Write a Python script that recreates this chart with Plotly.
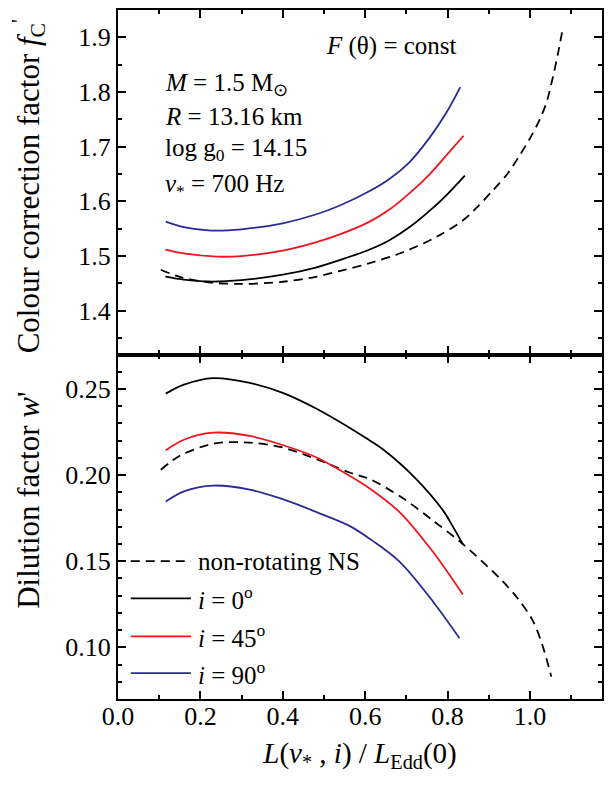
import plotly.graph_objects as go
from plotly.subplots import make_subplots

# ── Data ────────────────────────────────────────────────────────────────────

# top panel: colour correction factor f_C'
fc_nonrot_x = [0.104, 0.15, 0.22, 0.30, 0.40, 0.48, 0.54, 0.611, 0.692, 0.773, 0.837,
               0.87, 0.91, 0.947, 0.975, 1.0, 1.024, 1.04, 1.056, 1.068, 1.078]
fc_nonrot_y = [1.475, 1.462, 1.452, 1.449, 1.453, 1.462, 1.473, 1.487, 1.507, 1.535, 1.565,
               1.588, 1.620, 1.652, 1.684, 1.715, 1.750, 1.780, 1.828, 1.870, 1.909]

fc_i0_x = [0.115, 0.16, 0.22, 0.30, 0.40, 0.48, 0.54, 0.611, 0.659, 0.708, 0.757, 0.797, 0.842]
fc_i0_y = [1.4625, 1.457, 1.4535, 1.456, 1.466, 1.479, 1.493, 1.512, 1.529, 1.553, 1.583, 1.611, 1.647]

fc_i45_x = [0.115, 0.16, 0.24, 0.30, 0.40, 0.48, 0.54, 0.611, 0.659, 0.708, 0.757, 0.797, 0.839]
fc_i45_y = [1.512, 1.505, 1.499, 1.500, 1.510, 1.525, 1.540, 1.563, 1.585, 1.615, 1.650, 1.684, 1.720]

fc_i90_x = [0.116, 0.16, 0.22, 0.30, 0.40, 0.48, 0.54, 0.611, 0.659, 0.708, 0.757, 0.797, 0.831]
fc_i90_y = [1.563, 1.553, 1.547, 1.549, 1.560, 1.576, 1.593, 1.619, 1.641, 1.672, 1.717, 1.762, 1.809]

# bottom panel: dilution factor w'
w_nonrot_x = [0.104, 0.15, 0.235, 0.32, 0.40, 0.482, 0.562, 0.611, 0.692, 0.765, 0.837,
              0.927, 0.97, 1.007, 1.03, 1.052]
w_nonrot_y = [0.2031, 0.2112, 0.2184, 0.2188, 0.216, 0.2092, 0.2015, 0.1977, 0.1865, 0.1735,
              0.160, 0.140, 0.1285, 0.1155, 0.1015, 0.083]

w_i0_x = [0.116, 0.16, 0.231, 0.32, 0.40, 0.482, 0.562, 0.60, 0.643, 0.724, 0.789, 0.812, 0.837]
w_i0_y = [0.2473, 0.2525, 0.2563, 0.2535, 0.2477, 0.2385, 0.2275, 0.2218, 0.2150, 0.1977,
          0.1795, 0.1705, 0.160]

w_i45_x = [0.116, 0.16, 0.231, 0.32, 0.418, 0.482, 0.562, 0.611, 0.684, 0.765, 0.837]
w_i45_y = [0.2144, 0.2205, 0.2246, 0.2227, 0.216, 0.2102, 0.1996, 0.1922, 0.1784, 0.1553, 0.1307]

w_i90_x = [0.116, 0.16, 0.231, 0.32, 0.40, 0.482, 0.562, 0.62, 0.684, 0.765, 0.829]
w_i90_y = [0.1846, 0.1905, 0.1939, 0.1915, 0.186, 0.1785, 0.1705, 0.1615, 0.1496, 0.1265, 0.1053]

legend_labels = ["non-rotating NS", "<i>i</i> = 0<sup>o</sup>",
                 "<i>i</i> = 45<sup>o</sup>", "<i>i</i> = 90<sup>o</sup>"]

# ── Styling ────────────────────────────────────────────────────────────────

FONT = "Liberation Serif"
BLACK = "#000000"
RED = "#f0141e"
BLUE = "#2b2b96"
DASH = "9px,6px"

fig = make_subplots(rows=2, cols=1, shared_xaxes=True, vertical_spacing=0)


def add_curve(x, y, color, dash, row):
    fig.add_trace(go.Scatter(
        x=x, y=y, mode="lines",
        line=dict(color=color, width=1.8, dash=dash, shape="spline", smoothing=0.9),
        showlegend=False, hoverinfo="skip",
    ), row=row, col=1)


add_curve(fc_nonrot_x, fc_nonrot_y, BLACK, DASH, 1)
add_curve(fc_i0_x, fc_i0_y, BLACK, "solid", 1)
add_curve(fc_i45_x, fc_i45_y, RED, "solid", 1)
add_curve(fc_i90_x, fc_i90_y, BLUE, "solid", 1)

add_curve(w_nonrot_x, w_nonrot_y, BLACK, DASH, 2)
add_curve(w_i0_x, w_i0_y, BLACK, "solid", 2)
add_curve(w_i45_x, w_i45_y, RED, "solid", 2)
add_curve(w_i90_x, w_i90_y, BLUE, "solid", 2)

axis_common = dict(
    showline=True, linecolor=BLACK, linewidth=2.2, mirror="allticks",
    ticks="inside", ticklen=8, tickwidth=1.5, tickcolor=BLACK,
    showgrid=False, zeroline=False,
    tickfont=dict(family=FONT, size=26, color=BLACK),
)

fig.update_xaxes(
    range=[0, 1.175], dtick=0.2, tick0=0, tickformat=".1f",
    minor=dict(dtick=0.1, ticks="inside", ticklen=4, tickwidth=1.5, tickcolor=BLACK),
    **axis_common,
)
fig.update_xaxes(showticklabels=False, row=1, col=1)
fig.update_xaxes(
    ticklabelstandoff=-7,
    title=dict(
        text="<i>L</i>(<i>ν</i><sub>*</sub> , <i>i</i>) / <i>L</i><sub>Edd</sub>(0)",
        font=dict(family=FONT, size=29, color=BLACK), standoff=12,
    ),
    row=2, col=1,
)

fig.update_yaxes(
    range=[1.32, 1.95], dtick=0.1, tick0=0, tickformat=".1f",
    minor=dict(dtick=0.05, ticks="inside", ticklen=4, tickwidth=1.5, tickcolor=BLACK),
    row=1, col=1, **axis_common,
)
fig.update_yaxes(
    range=[0.07, 0.27], dtick=0.05, tick0=0, tickformat=".2f",
    minor=dict(dtick=0.01, ticks="inside", ticklen=4, tickwidth=1.5, tickcolor=BLACK),
    row=2, col=1, **axis_common,
)

# y-axis titles placed as rotated text so both panels line up
y_titles = [
    ("Colour correction factor <i>f</i><sub>C</sub><sup>'</sup>", 0.744),
    ("Dilution factor <i>w</i>'", 0.289),
]
for text, ypos in y_titles:
    fig.add_annotation(
        text=text, xref="paper", yref="paper", x=-0.184, y=ypos,
        xanchor="center", yanchor="middle", textangle=-90, showarrow=False,
        font=dict(family=FONT, size=31, color=BLACK),
    )

# ── Text in the top panel ────────────────────────────────────────────────────

info_lines = [
    ("<i>M</i> = 1.5 M<sub>⊙</sub>", 0.892),
    ("<i>R</i> = 13.16 km", 0.846),
    ("log g<sub>0</sub> = 14.15", 0.797),
    ("<i>ν</i><sub>*</sub> = 700 Hz", 0.745),
]
for text, ypos in info_lines:
    fig.add_annotation(
        text=text, xref="paper", yref="paper", x=0.092, y=ypos,
        xanchor="left", yanchor="middle", showarrow=False,
        font=dict(family=FONT, size=25, color=BLACK),
    )

fig.add_annotation(
    text="<i>F</i> (θ) = const", xref="paper", yref="paper", x=0.425, y=0.948,
    xanchor="left", yanchor="middle", showarrow=False,
    font=dict(family=FONT, size=25, color=BLACK),
)

# ── Legend drawn in the bottom panel ────────────────────────────────────────

legend_styles = [(BLACK, DASH), (BLACK, "solid"), (RED, "solid"), (BLUE, "solid")]
legend_rows = [0.150, 0.1284, 0.1063, 0.085]
for label, (color, dash), ypos in zip(legend_labels, legend_styles, legend_rows):
    fig.add_shape(
        type="line", xref="x2", yref="y2", x0=0.031, x1=0.177, y0=ypos, y1=ypos,
        line=dict(color=color, width=1.8, dash=dash),
    )
    fig.add_annotation(
        text=label, xref="x2", yref="y2", x=0.19, y=ypos,
        xanchor="left", yanchor="middle", showarrow=False,
        font=dict(family=FONT, size=25, color=BLACK),
    )

# page body adds an 8px margin, so the figure is a bit smaller than the window
fig.update_layout(
    width=604, height=786,
    margin=dict(l=110, r=10, t=0, b=95),
    plot_bgcolor="#ffffff", paper_bgcolor="#ffffff",
    font=dict(family=FONT, color=BLACK),
    showlegend=False,
)

fig.write_html("out.html")
